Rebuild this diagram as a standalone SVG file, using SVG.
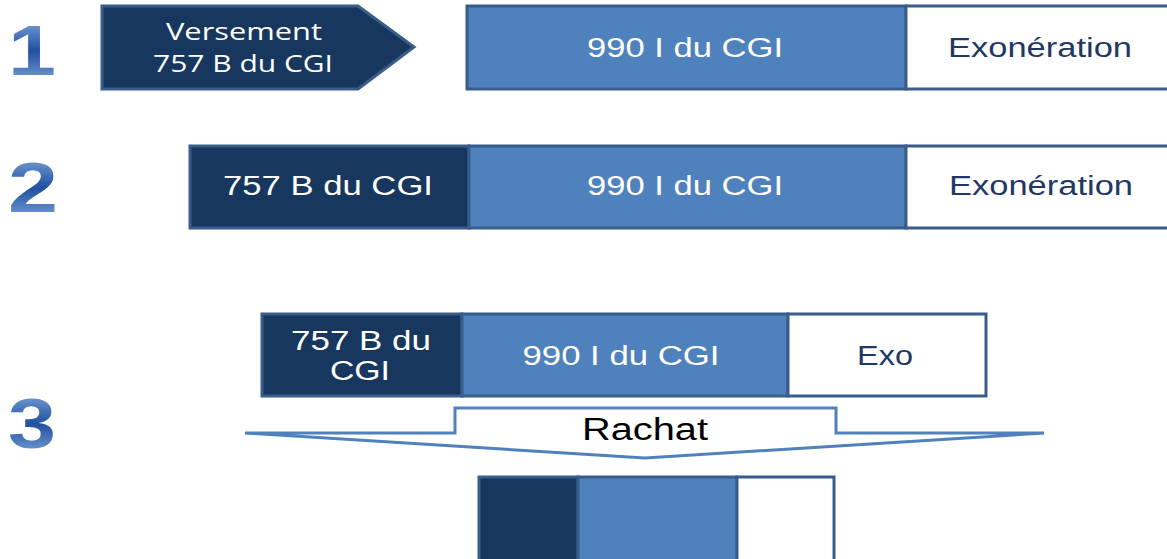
<svg xmlns="http://www.w3.org/2000/svg" width="1167" height="559" viewBox="0 0 1167 559">
<defs>
<linearGradient id="numg" x1="0" y1="0" x2="0" y2="1">
<stop offset="0" stop-color="#8fb4e3"/>
<stop offset="0.5" stop-color="#1f4f9f"/>
<stop offset="1" stop-color="#8fb4e3"/>
</linearGradient>
<style>
.num{font-family:"Liberation Sans",Arial,sans-serif;font-weight:bold;font-size:70px;fill:url(#numg)}
.dark{fill:#17375e;stroke:#385d8a;stroke-width:3}
.mid{fill:#4f81bd;stroke:#385d8a;stroke-width:3}
.light{fill:#ffffff;stroke:#385d8a;stroke-width:3}
.tw{font-family:"Liberation Sans",Arial,sans-serif;font-size:27px;fill:#ffffff;text-anchor:middle}
.td{font-family:"Liberation Sans",Arial,sans-serif;font-size:27px;fill:#1f3864;text-anchor:middle}
.tv{font-family:"Open Sans","Noto Sans",sans-serif;font-size:24px;fill:#ffffff;text-anchor:middle}
.tb{font-family:"Liberation Sans",Arial,sans-serif;font-size:31px;fill:#000000;text-anchor:middle}
</style>
</defs>
<g id="numbers">
<text class="num" x="8" y="75" textLength="48" lengthAdjust="spacingAndGlyphs">1</text>
<text class="num" x="8" y="212" textLength="50" lengthAdjust="spacingAndGlyphs">2</text>
<text class="num" x="8" y="448" textLength="48" lengthAdjust="spacingAndGlyphs">3</text>
</g>
<g id="row1">
<g id="r1-versement">
<polygon class="dark" points="102,6 358,6 414,47 358,89 102,89"/>
<text class="tv" x="244" y="40" textLength="156" lengthAdjust="spacingAndGlyphs">Versement</text>
<text class="tv" x="243" y="72" textLength="180" lengthAdjust="spacingAndGlyphs">757 B du CGI</text>
</g>
<g id="r1-990">
<rect class="mid" x="467" y="6" width="439" height="83"/>
<text class="tw" x="685" y="57" textLength="196" lengthAdjust="spacingAndGlyphs">990 I du CGI</text>
</g>
<g id="r1-exo">
<rect class="light" x="906" y="6" width="264" height="83"/>
<text class="td" x="1040" y="57" textLength="184" lengthAdjust="spacingAndGlyphs">Exonération</text>
</g>
</g>
<g id="row2">
<g id="r2-757">
<rect class="dark" x="190" y="146" width="279" height="82"/>
<text class="tw" x="328" y="195" textLength="210" lengthAdjust="spacingAndGlyphs">757 B du CGI</text>
</g>
<g id="r2-990">
<rect class="mid" x="469" y="146" width="437" height="82"/>
<text class="tw" x="685" y="195" textLength="196" lengthAdjust="spacingAndGlyphs">990 I du CGI</text>
</g>
<g id="r2-exo">
<rect class="light" x="906" y="146" width="264" height="82"/>
<text class="td" x="1041" y="195" textLength="184" lengthAdjust="spacingAndGlyphs">Exonération</text>
</g>
</g>
<g id="row3">
<g id="r3-757">
<rect class="dark" x="262" y="314" width="200" height="82"/>
<text class="tw" x="361" y="350" textLength="140" lengthAdjust="spacingAndGlyphs">757 B du</text>
<text class="tw" x="360" y="380" textLength="60" lengthAdjust="spacingAndGlyphs">CGI</text>
</g>
<g id="r3-990">
<rect class="mid" x="462" y="314" width="326" height="82"/>
<text class="tw" x="621" y="365" textLength="197" lengthAdjust="spacingAndGlyphs">990 I du CGI</text>
</g>
<g id="r3-exo">
<rect class="light" x="788" y="314" width="198" height="82"/>
<text class="td" x="885" y="365" textLength="56" lengthAdjust="spacingAndGlyphs">Exo</text>
</g>
</g>
<g id="connectors">
<g id="rachat">
<path d="M245,433 L455,433 L455,408 L836,408 L836,433 L1044,433 L645,458 Z" fill="#ffffff" stroke="#4f81bd" stroke-width="3" stroke-linejoin="miter"/>
<text class="tb" x="645" y="440" textLength="126" lengthAdjust="spacingAndGlyphs">Rachat</text>
</g>
</g>
<g id="row4">
<rect id="r4-757" class="dark" x="479" y="477" width="99" height="90"/>
<rect id="r4-990" class="mid" x="578" y="477" width="159" height="90"/>
<rect id="r4-exo" class="light" x="737" y="477" width="97" height="90"/>
</g>
</svg>
